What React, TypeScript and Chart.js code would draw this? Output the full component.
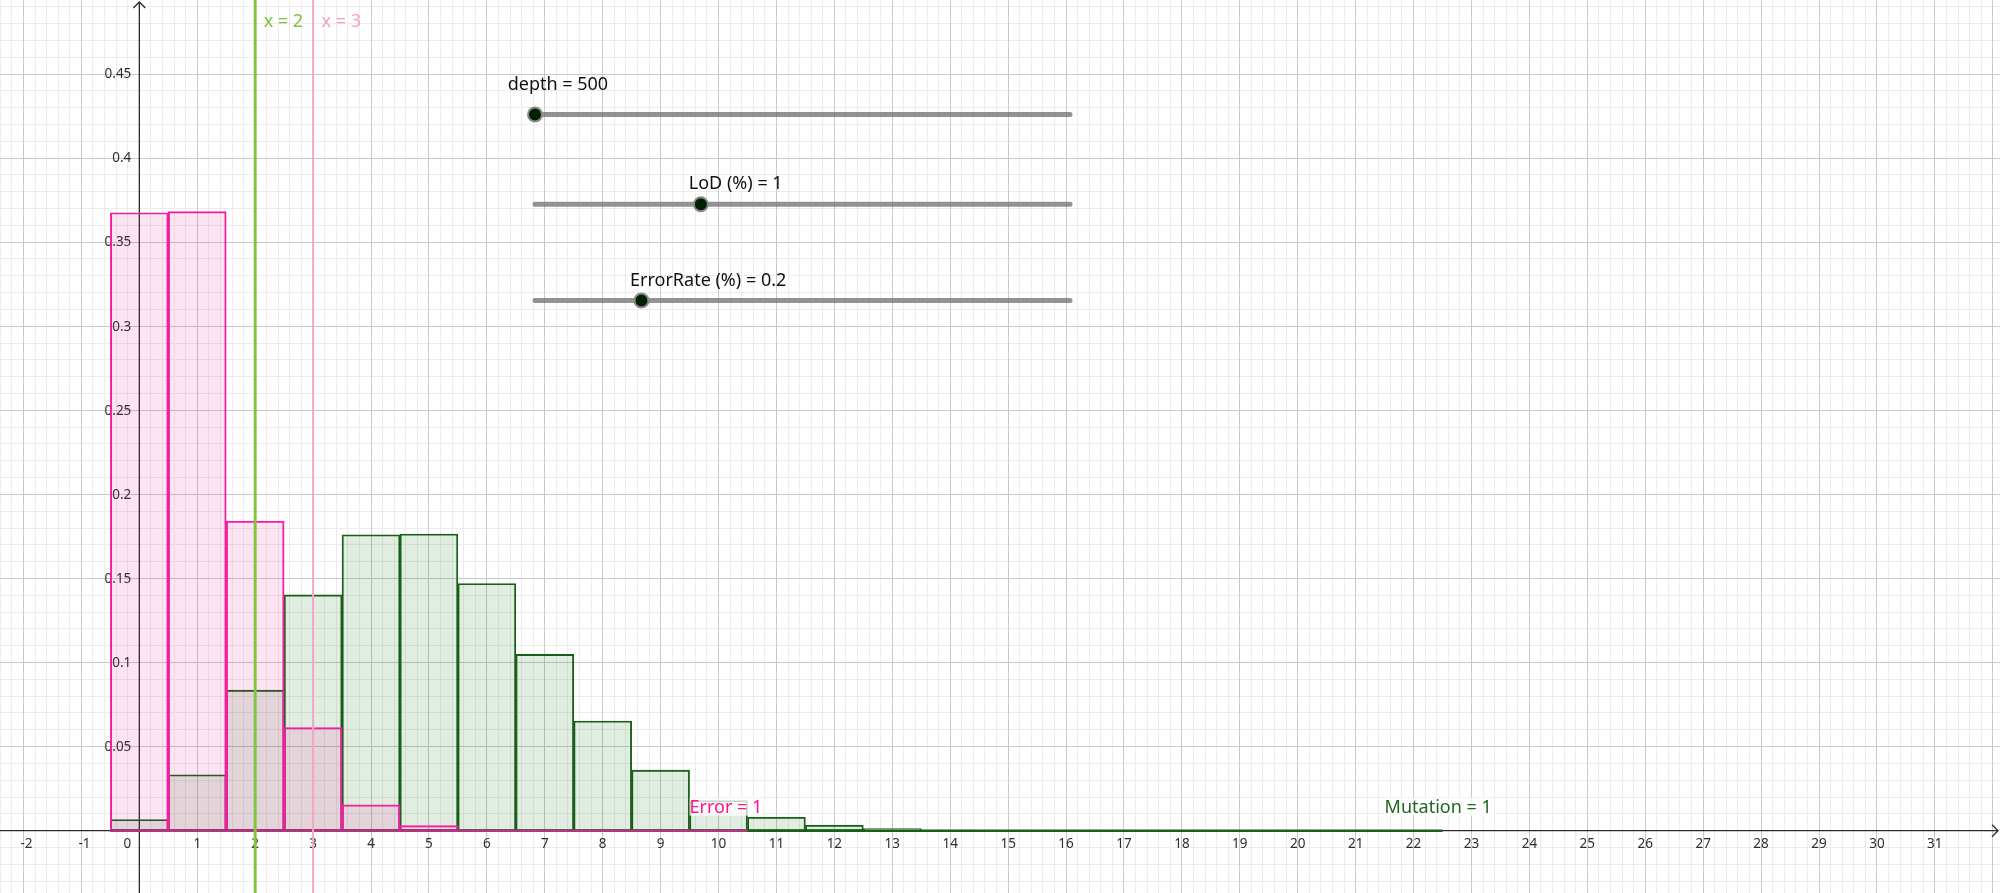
import React, { useEffect, useRef } from "react";
import { Chart, registerables } from "chart.js";

Chart.register(...registerables);

// ---------- data ----------
const errorCounts = [0, 1, 2, 3, 4, 5, 6, 7, 8, 9, 10];
const errorProb = [0.3675, 0.3682, 0.1841, 0.0613, 0.0153, 0.003, 0.0005, 0.0001, 0.0, 0.0, 0.0];

const mutationCounts = [0, 1, 2, 3, 4, 5, 6, 7, 8, 9, 10, 11, 12, 13, 14, 15, 16, 17, 18, 19, 20, 21, 22];
const mutationProb = [
  0.0066, 0.0332, 0.0836, 0.1402, 0.176, 0.1764, 0.147, 0.1048, 0.0652, 0.036, 0.0179, 0.008,
  0.0033, 0.0013, 0.0004, 0.0002, 0.0001, 0.0, 0.0, 0.0, 0.0, 0.0, 0.0,
];

const xTickValues = [-2, -1, 0, 1, 2, 3, 4, 5, 6, 7, 8, 9, 10, 11, 12, 13, 14, 15, 16, 17, 18, 19, 20, 21, 22, 23, 24, 25, 26, 27, 28, 29, 30, 31];
const yTickValues = [0.05, 0.1, 0.15, 0.2, 0.25, 0.3, 0.35, 0.4, 0.45];
const yTickLabels = ["0.05", "0.1", "0.15", "0.2", "0.25", "0.3", "0.35", "0.4", "0.45"];

const verticalLineX = [2, 3];
const verticalLineLabels = ["x = 2", "x = 3"];

const errorLabel = "Error = 1";
const mutationLabel = "Mutation = 1";

const sliderLabels = ["depth = 500", "LoD (%) = 1", "ErrorRate (%) = 0.2"];
const sliderFractions = [0, 0.31, 0.199];

// ---------- view window ----------
const W = 2000;
const H = 893;
const X_MIN = -2.4056;
const X_MAX = 32.125;
const Y_MIN = -0.03707;
const Y_MAX = 0.49401;
const X_MINOR = 0.2;
const Y_MINOR = 0.01;

// ---------- layout / style ----------
const FONT = "'Noto Sans', 'Open Sans', sans-serif";
const PINK = "rgb(245, 30, 160)";
const PINK_FILL = "rgba(230, 0, 140, 0.106)";
const GREEN = "rgb(25, 95, 25)";
const GREEN_FILL = "rgba(0, 100, 0, 0.115)";
const sliderLayout = [
  { y: 114.5, labelX: 507.7, labelY: 85 },
  { y: 204.3, labelX: 688.8, labelY: 184 },
  { y: 300.5, labelX: 630, labelY: 280.5 },
];
const SLIDER_X0 = 535;
const SLIDER_X1 = 1070;

const snap = (p: number) => Math.round(p - 0.5) + 0.5;

const gridPlugin = {
  id: "geoGrid",
  beforeDatasetsDraw(chart: any) {
    const { ctx, chartArea: a } = chart;
    const px = (v: number) => chart.scales.x.getPixelForValue(v);
    const py = (v: number) => chart.scales.y.getPixelForValue(v);
    ctx.save();
    ctx.fillStyle = "#ffffff";
    ctx.fillRect(a.left, a.top, a.right - a.left, a.bottom - a.top);
    ctx.lineWidth = 1;

    // minor grid
    ctx.strokeStyle = "#ececec";
    ctx.beginPath();
    for (let i = Math.ceil(X_MIN / X_MINOR); i * X_MINOR <= X_MAX; i++) {
      if (i % 5 === 0) continue;
      const p = snap(px(i * X_MINOR));
      ctx.moveTo(p, a.top);
      ctx.lineTo(p, a.bottom);
    }
    for (let i = Math.ceil(Y_MIN / Y_MINOR); i * Y_MINOR <= Y_MAX; i++) {
      if (i % 5 === 0) continue;
      const p = snap(py(i * Y_MINOR));
      ctx.moveTo(a.left, p);
      ctx.lineTo(a.right, p);
    }
    ctx.stroke();

    // major grid
    ctx.strokeStyle = "#c9c9c9";
    ctx.beginPath();
    for (let i = Math.ceil(X_MIN); i <= X_MAX; i++) {
      if (i === 0) continue;
      const p = snap(px(i));
      ctx.moveTo(p, a.top);
      ctx.lineTo(p, a.bottom);
    }
    for (let i = Math.ceil(Y_MIN / 0.05); i * 0.05 <= Y_MAX; i++) {
      if (i === 0) continue;
      const p = snap(py(i * 0.05));
      ctx.moveTo(a.left, p);
      ctx.lineTo(a.right, p);
    }
    ctx.stroke();

    // axes
    const x0 = px(0);
    const y0 = py(0);
    ctx.strokeStyle = "#2b2b2b";
    ctx.lineWidth = 1.3;
    ctx.beginPath();
    ctx.moveTo(a.left, y0);
    ctx.lineTo(a.right - 2, y0);
    ctx.moveTo(a.right - 8, y0 - 6);
    ctx.lineTo(a.right - 2, y0);
    ctx.lineTo(a.right - 8, y0 + 6);
    ctx.moveTo(x0, a.bottom);
    ctx.lineTo(x0, a.top + 2);
    ctx.moveTo(x0 - 6, a.top + 8);
    ctx.lineTo(x0, a.top + 2);
    ctx.lineTo(x0 + 6, a.top + 8);
    ctx.stroke();

    // tick labels
    ctx.fillStyle = "#2e2e2e";
    ctx.font = `13.5px ${FONT}`;
    ctx.textBaseline = "middle";
    ctx.textAlign = "center";
    xTickValues.forEach((v) => {
      const label = v < 0 ? `-${Math.abs(v)}` : String(v);
      let cx = px(v);
      if (v === 0) cx -= 12;
      if (v < 0) cx += 3;
      ctx.fillText(label, cx, y0 + 13.5);
    });
    ctx.textAlign = "right";
    yTickValues.forEach((v, i) => {
      ctx.fillText(yTickLabels[i], x0 - 8, py(v) + 0.5);
    });
    ctx.restore();
  },
  afterDatasetsDraw(chart: any) {
    const { ctx } = chart;
    const px = (v: number) => chart.scales.x.getPixelForValue(v);
    const py = (v: number) => chart.scales.y.getPixelForValue(v);
    ctx.save();
    ctx.font = `18px ${FONT}`;
    ctx.textBaseline = "middle";
    ctx.textAlign = "left";

    // vertical line labels
    const lineColors = ["#7fc23f", "#f2a0c6"];
    verticalLineX.forEach((v, i) => {
      ctx.fillStyle = lineColors[i];
      ctx.fillText(verticalLineLabels[i], px(v) + 8.5, 21.5);
    });

    // histogram captions
    const y0 = py(0);
    const caption = (text: string, x: number, color: string) => {
      const w = ctx.measureText(text).width;
      ctx.fillStyle = "rgba(255,255,255,0.75)";
      ctx.fillRect(x, y0 - 33, w + 2, 18);
      ctx.fillStyle = color;
      ctx.fillText(text, x, y0 - 23);
    };
    caption(errorLabel, px(errorCounts.length - 1.5), "rgb(255, 20, 150)");
    caption(mutationLabel, px(mutationCounts.length - 1.5), "rgb(30, 105, 30)");

    // sliders
    sliderLabels.forEach((label, i) => {
      const L = sliderLayout[i];
      ctx.strokeStyle = "rgba(110,110,110,0.75)";
      ctx.lineWidth = 5;
      ctx.lineCap = "round";
      ctx.beginPath();
      ctx.moveTo(SLIDER_X0, L.y);
      ctx.lineTo(SLIDER_X1, L.y);
      ctx.stroke();
      const kx = SLIDER_X0 + sliderFractions[i] * (SLIDER_X1 - SLIDER_X0);
      ctx.beginPath();
      ctx.arc(kx, L.y, 7, 0, Math.PI * 2);
      ctx.fillStyle = "#002200";
      ctx.fill();
      ctx.lineWidth = 2;
      ctx.strokeStyle = "#8a8a8a";
      ctx.stroke();
      ctx.fillStyle = "#111111";
      ctx.fillText(label, L.labelX, L.labelY);
    });
    ctx.restore();
  },
};

export default function App() {
  const ref = useRef<HTMLCanvasElement>(null);

  useEffect(() => {
    document.body.style.margin = "0";
    document.body.style.overflow = "hidden";
    const canvas = ref.current;
    if (!canvas) return;

    const errorData = errorCounts.map((k, i) => ({ x: k, y: errorProb[i] }));
    const mutationData = mutationCounts.map((k, i) => ({ x: k, y: mutationProb[i] }));
    const baseline = (n: number) => [
      { x: -0.5, y: 0 },
      { x: n - 0.5, y: 0 },
    ];

    const chart = new Chart(canvas, {
      type: "bar",
      data: {
        datasets: [
          ...verticalLineX.map((v, i) => ({
            type: "line" as const,
            label: verticalLineLabels[i],
            data: [
              { x: v, y: Y_MIN },
              { x: v, y: Y_MAX },
            ],
            borderColor: i === 0 ? "#84c443" : "#f3a5c9",
            borderWidth: i === 0 ? 3 : 2,
            pointRadius: 0,
            fill: false,
            order: 0,
          })),
          {
            type: "line" as const,
            label: "Error baseline",
            data: baseline(errorCounts.length),
            borderColor: "rgb(175, 55, 125)",
            borderWidth: 2.5,
            pointRadius: 0,
            fill: false,
            order: 1,
          },
          {
            type: "line" as const,
            label: "Mutation baseline",
            data: baseline(mutationCounts.length),
            borderColor: GREEN,
            borderWidth: 2.5,
            pointRadius: 0,
            fill: false,
            order: 1.5,
          },
          {
            type: "bar" as const,
            label: "Error",
            data: errorData,
            backgroundColor: PINK_FILL,
            borderColor: PINK,
            borderWidth: 1.3,
            borderSkipped: false,
            grouped: false,
            barPercentage: 1,
            categoryPercentage: 1,
            order: 2,
          },
          {
            type: "bar" as const,
            label: "Mutation",
            data: mutationData,
            backgroundColor: GREEN_FILL,
            borderColor: GREEN,
            borderWidth: 1.2,
            borderSkipped: false,
            grouped: false,
            barPercentage: 1,
            categoryPercentage: 1,
            order: 3,
          },
        ],
      },
      options: {
        responsive: false,
        devicePixelRatio: 1,
        animation: false,
        events: [],
        layout: { padding: 0 },
        plugins: {
          legend: { display: false },
          tooltip: { enabled: false },
        },
        scales: {
          x: {
            type: "linear",
            min: X_MIN,
            max: X_MAX,
            offset: false,
            display: false,
            grid: { offset: false },
            ticks: { stepSize: 1 },
          },
          y: { type: "linear", min: Y_MIN, max: Y_MAX, display: false },
        },
      } as any,
      plugins: [gridPlugin],
    } as any);

    return () => chart.destroy();
  }, []);

  return (
    <div style={{ width: W, height: H }}>
      <canvas ref={ref} width={W} height={H} style={{ display: "block", width: W, height: H }} />
    </div>
  );
}
